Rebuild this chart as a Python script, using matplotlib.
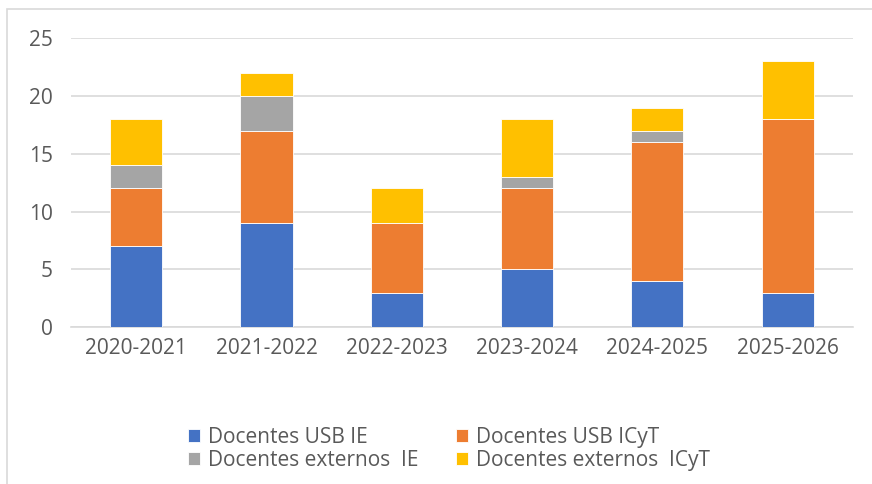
import matplotlib.pyplot as plt
import numpy as np
from matplotlib.patches import Rectangle

# Data
years = ["2020-2021", "2021-2022", "2022-2023", "2023-2024", "2024-2025", "2025-2026"]
usb_ie = [7, 9, 3, 5, 4, 3]
usb_icyt = [5, 8, 6, 7, 12, 15]
ext_ie = [2, 3, 0, 1, 1, 0]
ext_icyt = [4, 2, 3, 5, 2, 5]

series = [
    ("Docentes USB IE", usb_ie, "#4472C4"),
    ("Docentes USB ICyT", usb_icyt, "#ED7D31"),
    ("Docentes externos  IE", ext_ie, "#A5A5A5"),
    ("Docentes externos  ICyT", ext_icyt, "#FFC000"),
]

plt.rcParams["font.family"] = ["Open Sans", "DejaVu Sans"]
text_color = "#595959"

fig = plt.figure(figsize=(8.72, 4.84), dpi=100)
ax = fig.add_axes([0.0814, 0.324, 0.8966, 0.597])

x = np.arange(len(years))
bottom = np.zeros(len(years))
bars = []
for name, vals, col in series:
    b = ax.bar(x, vals, width=0.4, bottom=bottom, color=col, label=name,
               edgecolor="white", linewidth=0.6, zorder=3)
    bars.append(b)
    bottom += np.array(vals)

ax.set_ylim(0, 25)
ax.set_xlim(-0.5, len(years) - 0.5)
ax.set_yticks(range(0, 26, 5))
ax.set_xticks(x)
ax.set_xticklabels(years)
ax.yaxis.grid(True, color="#D9D9D9", linewidth=1.2, zorder=0)
ax.set_axisbelow(True)
for s in ["top", "right", "left"]:
    ax.spines[s].set_visible(False)
ax.spines["bottom"].set_color("#D9D9D9")
ax.spines["bottom"].set_linewidth(1.2)
ax.tick_params(axis="both", length=0, labelsize=15, colors=text_color)
ax.tick_params(axis="y", pad=13)
ax.tick_params(axis="x", pad=8)

# row-major legend order like the original
order = [0, 2, 1, 3]
fig.legend([bars[i] for i in order], [series[i][0] for i in order],
           loc="center", bbox_to_anchor=(0.515, 0.073), ncol=2, frameon=False,
           fontsize=15, labelcolor=text_color, handlelength=0.55, handleheight=0.55,
           handletextpad=0.4, columnspacing=1.8, labelspacing=0.1)

# chart border
fig.patches.append(Rectangle((7 / 872, -0.05), 1.0, 1.05 - 9 / 484,
                             transform=fig.transFigure, fill=False,
                             edgecolor="#D9D9D9", linewidth=1.2))

plt.savefig("out.png", dpi=100)
